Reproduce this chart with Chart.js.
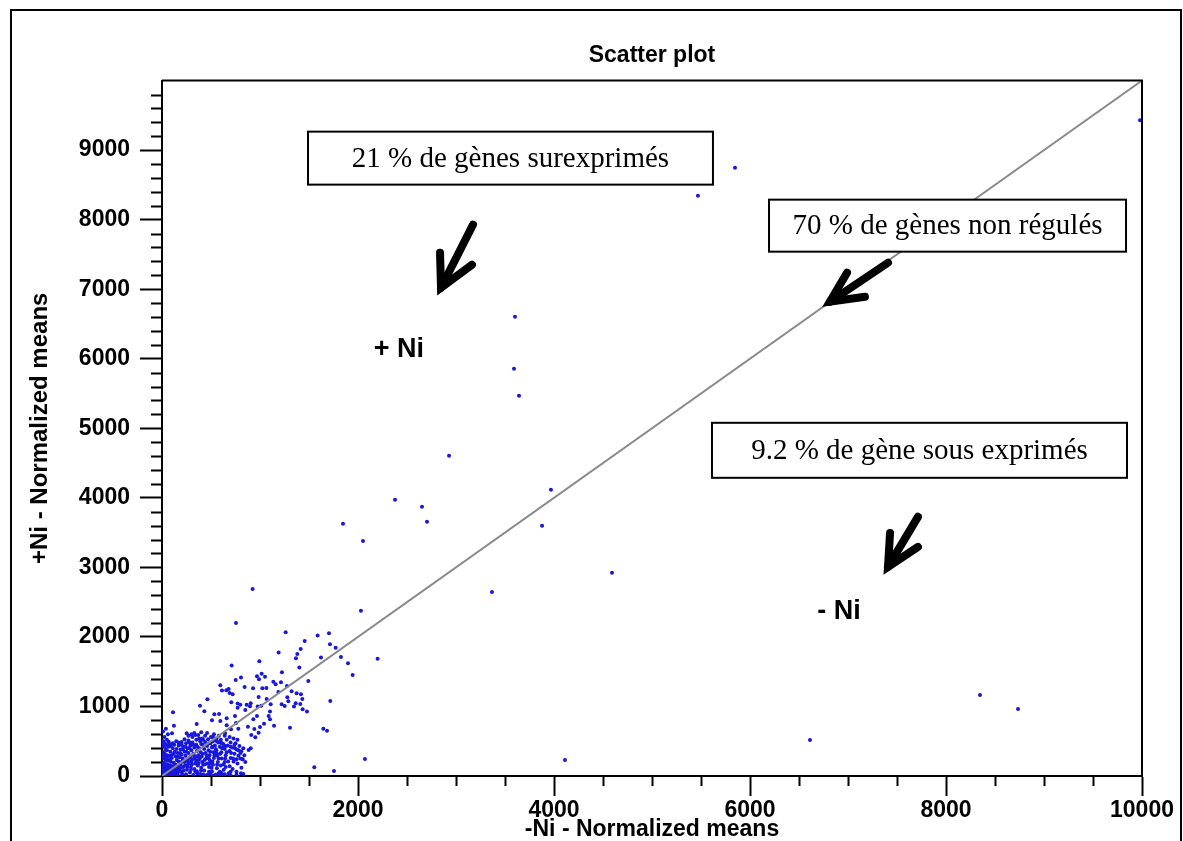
<!DOCTYPE html>
<html>
<head>
<meta charset="utf-8">
<script src="https://cdn.jsdelivr.net/npm/chart.js@4.4.0/dist/chart.umd.min.js"></script>
<style>
html,body{margin:0;padding:0;background:#fff;}
canvas{display:block;}
</style>
</head>
<body>
<canvas id="c" width="1183" height="841"></canvas>
<script>
// ---------- text ----------
const chartTitle = 'Scatter plot';
const xAxisTitle = '-Ni - Normalized means';
const yAxisTitle = '+Ni - Normalized means';

// ---------- tick labels ----------
const xTickValues = [0, 2000, 4000, 6000, 8000, 10000];
const yTickValues = [0, 1000, 2000, 3000, 4000, 5000, 6000, 7000, 8000, 9000];

// ---------- reference line y = x ----------
const diagonalX = [0, 10000];
const diagonalY = [0, 10000];

// ---------- genes: [-Ni mean, +Ni mean] ----------
const outlierGenes = [
  [9980,9430],[5847,8748],[5469,8345],[3602,6604],[3592,5856],[3643,5468],
  [2929,4604],[2378,3971],[2653,3871],[2704,3655],[3969,4115],[3878,3597],
  [1847,3626],[2051,3381],[3367,2647],[4592,2921],[4112,230],[6612,518],
  [8347,1165],[8735,964]
];

const spreadGenes = [
  [925,2690],[755,2200],[2030,2375],[2200,1685],[1262,2067],[1588,2019],[1704,2053],
  [1456,1942],[1714,1894],[1772,1846],[1415,1827],[1381,1755],[1367,1693],[1622,1703],
  [1826,1712],[1190,1775],[993,1650],[711,1588],[1898,1621],[1945,1453],[1401,1559],
  [1493,1367],[1224,1492],[806,1415],[752,1381],[969,1434],[1017,1472],[1051,1429],
  [990,1391],[1136,1357],[1160,1319],[1214,1348],[595,1304],[612,1228],[680,1252],
  [843,1281],[1065,1266],[1024,1261],[929,1261],[986,1137],[1068,1108],[1275,1295],
  [1323,1218],[1187,1209],[1374,1189],[1418,1175],[1432,1108],[1109,1031],[1279,1132],
  [1289,1074],[1221,1031],[1252,1007],[1364,1046],[1411,1036],[1347,998],[1435,959],
  [1479,926],[1013,1012],[976,998],[898,1002],[864,1026],[772,1041],[707,1060],
  [721,1175],[690,1194],[656,1233],[772,983],[799,1026],[850,950],[905,1046],
  [1102,926],[1088,863],[1041,753],[1143,724],[1102,815],[969,863],[932,815],
  [877,710],[942,676],[1000,705],[986,623],[952,556],[911,590],[1306,695],
  [1717,1079],[1646,681],[1684,652],[1554,125],[1755,72],[2071,245],[388,1012],
  [463,1103],[112,916],[122,724],[432,930],[534,887],[510,801],[582,892],
  [595,791],[660,830],[660,729],[745,863],[755,763],[779,681],[704,671],
  [643,614],[599,480],[626,412],[809,355],[823,240],[884,374],[905,398],
  [806,38],[605,48],[578,38],[354,748],[252,614],[102,614],[68,494],
  [82,446],[541,528],[514,422],[558,326],[490,177],[490,38]
];

const coreGenes = [
  [4,6],[10,22],[18,9],[26,40],[7,58],[35,15],[48,52],[14,85],[22,110],[40,78],
  [62,30],[75,12],[88,66],[55,100],[30,135],[9,150],[70,95],[95,110],[110,25],[120,75],
  [105,140],[82,150],[58,160],[16,180],[38,170],[130,115],[145,48],[140,160],[6,40],[50,5],
  [28,70],[66,130],[100,55],[125,140],[148,100],[12,122],[44,148],[80,40],[115,95],[135,20],
  [160,20],[175,95],[190,160],[170,210],[150,230],[120,190],[90,205],[60,220],[30,240],[12,260],
  [200,60],[215,130],[230,200],[210,250],[180,270],[140,280],[100,260],[70,290],[40,310],[20,340],
  [245,25],[255,90],[265,170],[260,240],[240,290],[200,310],[160,330],[120,320],[85,350],[50,370],
  [285,50],[295,130],[300,210],[290,280],[270,330],[230,350],[190,380],[150,390],[110,400],[65,420],
  [320,15],[330,100],[340,180],[335,260],[320,320],[300,370],[260,400],[215,420],[170,440],[125,450],
  [355,70],[365,150],[375,230],[370,300],[355,360],[330,410],[290,440],[245,470],[200,490],[145,500],
  [390,30],[400,120],[410,200],[405,280],[395,340],[380,400],[350,450],[310,480],[270,510],[230,530],
  [430,80],[440,170],[450,250],[445,330],[430,390],[415,450],[390,500],[350,520],[310,560],[270,580],
  [470,20],[480,130],[490,220],[485,300],[475,370],[460,430],[440,490],[410,540],[370,590],[330,620],
  [510,70],[520,160],[530,260],[525,340],[510,410],[495,470],[470,530],[440,580],[400,630],
  [550,20],[560,110],[570,200],[565,290],[555,370],[540,440],[520,500],[500,560],[460,620],
  [590,60],[600,150],[610,250],[605,340],[590,420],[575,480],[555,540],[530,600],
  [620,10],[630,90],[640,200],[650,300],[640,390],[625,460],[600,520],[580,580],
  [680,40],[690,140],[700,260],[690,360],[670,440],[660,520],[640,580],
  [720,100],[730,210],[740,320],[720,410],[700,480],[690,560],
  [760,60],[770,180],[780,290],[760,380],[750,470],[730,540],
  [810,120],[820,240],[800,330],[790,430],[770,520],[850,200],[840,300],[830,400],
  [20,420],[35,460],[15,500],[50,520],[25,560],[60,600],[10,640],[40,680],
  [600,5],[640,25],[700,10],[760,20],[830,30],[520,8],[450,10],
  [3,30],[15,45],[33,28],[42,95],[52,68],[68,48],[78,80],[92,35],[100,85],[112,118],
  [122,48],[138,90],[152,130],[165,60],[172,150],[185,110],[198,200],[205,30],[222,80],[235,150],
  [248,220],[258,130],[272,200],[280,260],[295,90],[305,170],[312,240],[325,300],[340,60],[348,220],
  [360,280],[372,180],[385,250],[398,80],[412,320],[420,160],[435,230],[455,300],[465,180],[478,250],
  [492,350],[505,120],[515,210],[535,300],[548,390],[562,160],[578,250],[595,320],[612,400],[628,170],
  [645,250],[660,340],[675,210],[705,330],[725,250],[745,400],[25,190],[18,290],[35,390],[8,470],
  [45,265],[75,240],[95,300],[130,350],[160,280],[185,330],[215,380],[250,350],[280,400],[300,460],
  [240,420],[200,450],[170,480],[110,470],[75,460],[55,440],[90,430],[280,480],[320,450],[360,420],
  [400,460],[420,520],[380,540],[340,590],[300,600],[480,470],[520,560],[560,500],[610,470],[650,430],
  [700,420],[740,450],[780,370],[800,250],[760,240],[650,130],[700,60],[580,30],[480,60],[420,20],[360,40]
];

// ---------- annotations (data coordinates) ----------
const boxTexts = ['21 % de gènes surexprimés', '70 % de gènes non régulés', '9.2 % de gène sous exprimés'];
const boxRects = [[1490,9266,5622,8504],[6194,8288,9837,7540],[5612,5079,9847,4288]];
const arrowPaths = [
  {start:[3173,7928], tip:[2847,7022], barbA:[2837,7525], barbB:[3163,7353]},
  {start:[7408,7381], tip:[6816,6820], barbA:[6990,7237], barbB:[7173,6892]},
  {start:[7714,3727], tip:[7408,3007], barbA:[7429,3496], barbB:[7714,3295]}
];
const regionLabels = ['+ Ni', '- Ni'];
const regionLabelPos = [[2418,6129],[6908,2360]];

const toPts = arr => arr.map(p => ({x:p[0], y:p[1]}));
const allGenes = toPts(outlierGenes.concat(spreadGenes, coreGenes));
const diagonal = diagonalX.map((v,i)=>({x:v, y:diagonalY[i]}));

const boldFont = '"Liberation Sans", Arial, sans-serif';
const serifFont = '"Liberation Serif", "Times New Roman", serif';

const decor = {
  id: 'decor',
  beforeDraw(chart) {
    const ctx = chart.ctx;
    ctx.save();
    ctx.fillStyle = '#fff';
    ctx.fillRect(0, 0, chart.width, chart.height);
    ctx.restore();
  },
  afterDraw(chart) {
    const {ctx, chartArea: a, scales: {x, y}} = chart;
    ctx.save();
    // outer frame
    ctx.strokeStyle = '#000';
    ctx.lineWidth = 2;
    ctx.strokeRect(11, 10, chart.width - 13, chart.height + 20);
    // plot frame top & right
    ctx.beginPath();
    ctx.moveTo(a.left, a.top);
    ctx.lineTo(a.right, a.top);
    ctx.lineTo(a.right, a.bottom);
    ctx.stroke();
    // minor ticks
    ctx.lineWidth = 2;
    ctx.beginPath();
    for (let v = 200; v < 10000; v += 200) {
      if (v % 1000 === 0) continue;
      const py = Math.round(y.getPixelForValue(v)) + 0.5;
      ctx.moveTo(a.left - 11, py);
      ctx.lineTo(a.left, py);
    }
    for (let v = 500; v < 10000; v += 500) {
      if (v % 2000 === 0) continue;
      const px = Math.round(x.getPixelForValue(v)) + 0.5;
      ctx.moveTo(px, a.bottom);
      ctx.lineTo(px, a.bottom + 10);
    }
    ctx.stroke();
    // boxes
    ctx.font = '29px ' + serifFont;
    ctx.textAlign = 'center';
    ctx.textBaseline = 'middle';
    boxRects.forEach((r, i) => {
      const x1 = x.getPixelForValue(r[0]), y1 = y.getPixelForValue(r[1]);
      const x2 = x.getPixelForValue(r[2]), y2 = y.getPixelForValue(r[3]);
      ctx.fillStyle = '#fff';
      ctx.fillRect(x1, y1, x2 - x1, y2 - y1);
      ctx.strokeStyle = '#000';
      ctx.lineWidth = 2;
      ctx.strokeRect(x1, y1, x2 - x1, y2 - y1);
      ctx.fillStyle = '#000';
      ctx.fillText(boxTexts[i], (x1 + x2) / 2, (y1 + y2) / 2 + 1);
    });
    // arrows
    ctx.strokeStyle = '#000';
    ctx.lineWidth = 8;
    ctx.lineCap = 'round';
    ctx.lineJoin = 'miter';
    const P = p => [x.getPixelForValue(p[0]), y.getPixelForValue(p[1])];
    arrowPaths.forEach(ar => {
      const s = P(ar.start), t = P(ar.tip), b1 = P(ar.barbA), b2 = P(ar.barbB);
      ctx.beginPath();
      ctx.moveTo(s[0], s[1]);
      ctx.lineTo(t[0], t[1]);
      ctx.stroke();
      ctx.beginPath();
      ctx.moveTo(b1[0], b1[1]);
      ctx.lineTo(t[0], t[1]);
      ctx.lineTo(b2[0], b2[1]);
      ctx.stroke();
    });
    // region labels
    ctx.font = 'bold 27px ' + boldFont;
    ctx.fillStyle = '#000';
    regionLabels.forEach((t, i) => {
      const p = P(regionLabelPos[i]);
      ctx.fillText(t, p[0], p[1]);
    });
    ctx.restore();
  }
};

new Chart(document.getElementById('c'), {
  type: 'scatter',
  data: {
    datasets: [
      {
        label: 'y = x',
        data: diagonal,
        showLine: true,
        borderColor: '#8a8a8a',
        borderWidth: 2,
        pointRadius: 0,
        order: 0
      },
      {
        label: 'genes',
        data: allGenes,
        pointRadius: 2,
        pointHoverRadius: 2,
        pointBorderWidth: 0,
        backgroundColor: '#1717dd',
        borderColor: '#1717dd',
        order: 1
      }
    ]
  },
  options: {
    responsive: false,
    animation: false,
    events: [],
    layout: { padding: { left: 0, right: 41, top: 0, bottom: 0 } },
    plugins: {
      legend: { display: false },
      tooltip: { enabled: false },
      title: {
        display: true,
        text: chartTitle,
        fullSize: false,
        color: '#000',
        font: { family: boldFont, size: 23, weight: 'bold', lineHeight: 1.2 },
        padding: { top: 42, bottom: 11 }
      }
    },
    scales: {
      x: {
        type: 'linear',
        min: 0, max: 10000,
        afterFit: s => { s.height = 65; },
        border: { display: true, color: '#000', width: 2 },
        grid: { drawOnChartArea: false, drawTicks: true, tickLength: 20, tickColor: '#000', tickWidth: 2 },
        ticks: {
          stepSize: 2000,
          padding: 1,
          maxRotation: 0,
          color: '#000',
          font: { family: boldFont, size: 23, weight: 'bold' },
          callback: v => xTickValues.includes(v) ? String(v) : ''
        },
        title: {
          display: true,
          text: xAxisTitle,
          color: '#000',
          font: { family: boldFont, size: 23, weight: 'bold', lineHeight: 1 },
          padding: { top: 0, bottom: 0 }
        }
      },
      y: {
        type: 'linear',
        min: 0, max: 10000,
        afterFit: s => { s.width = 162; },
        border: { display: true, color: '#000', width: 2 },
        grid: {
          drawOnChartArea: false, drawTicks: true, tickLength: 22, tickWidth: 2,
          tickColor: ctx => (ctx.tick && ctx.tick.value === 10000) ? 'rgba(0,0,0,0)' : '#000'
        },
        ticks: {
          stepSize: 1000,
          padding: 10,
          color: '#000',
          font: { family: boldFont, size: 23, weight: 'bold' },
          callback: v => yTickValues.includes(v) ? String(v) : ''
        },
        title: {
          display: true,
          text: yAxisTitle,
          color: '#000',
          font: { family: boldFont, size: 24, weight: 'bold', lineHeight: 1.2 },
          padding: { top: 26, bottom: 0 }
        }
      }
    }
  },
  plugins: [decor]
});
</script>
</body>
</html>
